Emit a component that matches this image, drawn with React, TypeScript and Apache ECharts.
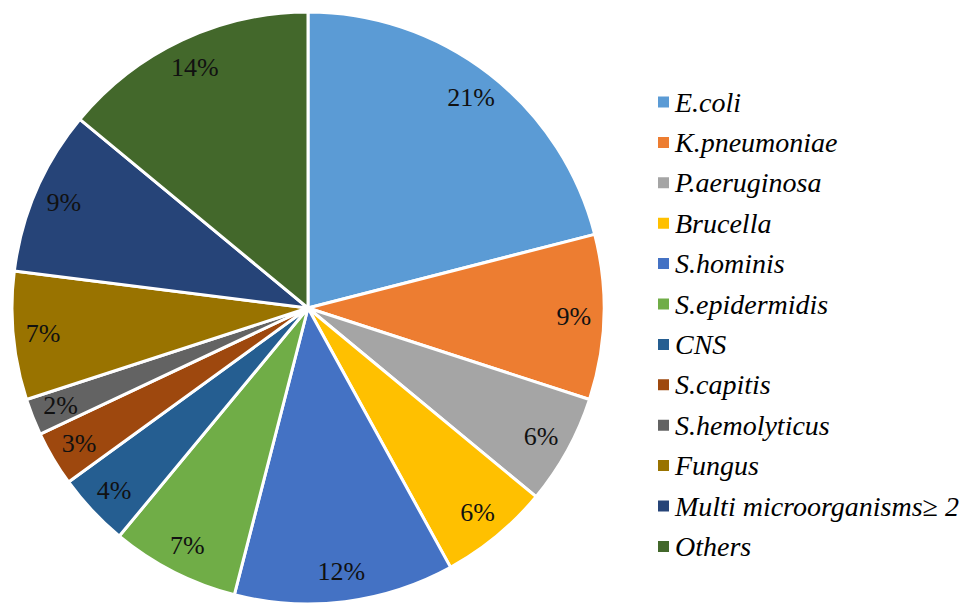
import React, { useEffect, useRef } from "react";
import * as echarts from "echarts";

const categories = [
  "E.coli",
  "K.pneumoniae",
  "P.aeruginosa",
  "Brucella",
  "S.hominis",
  "S.epidermidis",
  "CNS",
  "S.capitis",
  "S.hemolyticus",
  "Fungus",
  "Multi microorganisms≥ 2",
  "Others",
];
const values = [21, 9, 6, 6, 12, 7, 4, 3, 2, 7, 9, 14];
const colors = [
  "#5B9BD5",
  "#ED7D31",
  "#A5A5A5",
  "#FFC000",
  "#4472C4",
  "#70AD47",
  "#255E91",
  "#9E480E",
  "#636363",
  "#997300",
  "#264478",
  "#43682B",
];

const FONT = "Liberation Serif, Times New Roman, serif";

export default function App() {
  const ref = useRef<HTMLDivElement>(null);
  useEffect(() => {
    document.body.style.margin = "0";
    const chart = echarts.init(ref.current!, undefined, { renderer: "svg" });
    const data = categories.map((name, i) => ({
      name,
      value: values[i],
      itemStyle: { color: colors[i] },
    }));
    chart.setOption({
      animation: false,
      backgroundColor: "#fff",
      textStyle: { fontFamily: FONT },
      legend: {
        orient: "vertical",
        left: 651,
        top: 83,
        icon: "rect",
        itemWidth: 13,
        itemHeight: 13,
        itemGap: 12.4,
        data: categories,
        selectedMode: false,
        textStyle: {
          fontFamily: FONT,
          fontStyle: "italic",
          fontSize: 28,
          lineHeight: 28,
          color: "#000",
        },
      },
      series: [
        {
          type: "pie",
          center: [308, 308],
          radius: 296,
          startAngle: 90,
          clockwise: true,
          data,
          label: { show: false },
          labelLine: { show: false },
          itemStyle: { borderColor: "#fff", borderWidth: 3 },
          emphasis: { disabled: true },
          silent: true,
        },
        {
          type: "pie",
          center: [308, 308],
          radius: [230, 296],
          startAngle: 90,
          clockwise: true,
          data: categories.map((name, i) => ({
            name: name + " ",
            value: values[i],
          })),
          itemStyle: { color: "rgba(0,0,0,0)", borderWidth: 0 },
          avoidLabelOverlap: false,
          label: {
            show: true,
            position: "inside",
            formatter: "{c}%",
            fontFamily: FONT,
            fontSize: 26,
            color: "#111",
          },
          labelLine: { show: false },
          emphasis: { disabled: true },
          silent: true,
        },
      ],
    });
    return () => chart.dispose();
  }, []);
  return <div ref={ref} style={{ width: 966, height: 604 }} />;
}
